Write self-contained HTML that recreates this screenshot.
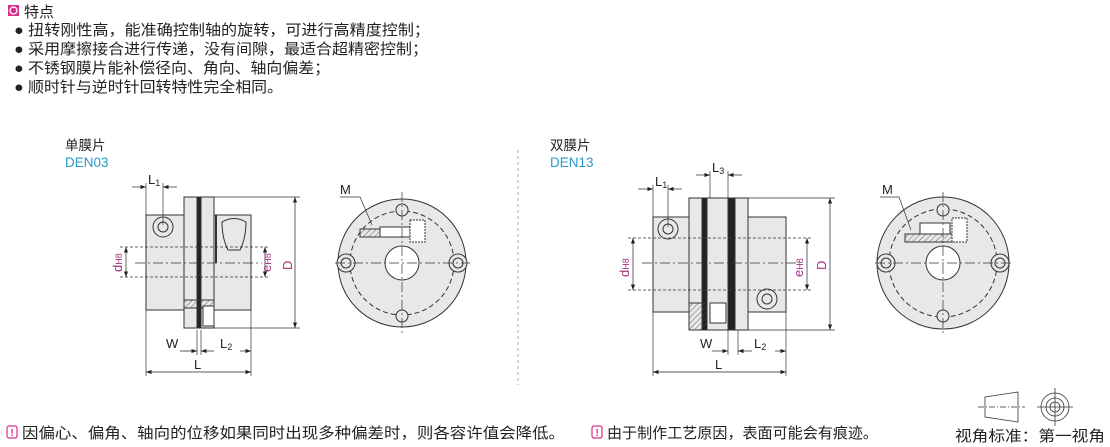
<!DOCTYPE html>
<html><head><meta charset="utf-8"><style>
body{margin:0;background:#fff;width:1110px;height:447px;overflow:hidden;font-family:"Liberation Sans","Noto Sans CJK SC",sans-serif;}
svg{position:absolute;left:0;top:0}
</style></head><body>
<svg width="1110" height="447" viewBox="0 0 1110 447" font-family="Liberation Sans, Noto Sans CJK SC, sans-serif">
<defs>
<pattern id="h" width="4" height="4" patternUnits="userSpaceOnUse" patternTransform="rotate(45)"><line x1="0" y1="0" x2="0" y2="4" stroke="#444" stroke-width="0.8"/></pattern>
<marker id="a" markerWidth="8" markerHeight="6" refX="8" refY="3" orient="auto-start-reverse"><path d="M0,0L8,3L0,6z" fill="#222"/></marker>
</defs>
<!-- header -->
<rect x="8" y="5" width="11" height="11" fill="#d8308a"/><circle cx="13.5" cy="10.5" r="3.5" fill="none" stroke="#fff" stroke-width="1.3"/>
<g font-size="15" fill="#222">
<text x="24" y="17">特点</text>
<text x="14" y="35" textLength="416" lengthAdjust="spacingAndGlyphs">● 扭转刚性高，能准确控制轴的旋转，可进行高精度控制；</text>
<text x="14" y="54" textLength="414" lengthAdjust="spacingAndGlyphs">● 采用摩擦接合进行传递，没有间隙，最适合超精密控制；</text>
<text x="14" y="73" textLength="316" lengthAdjust="spacingAndGlyphs">● 不锈钢膜片能补偿径向、角向、轴向偏差；</text>
<text x="14" y="92" textLength="269" lengthAdjust="spacingAndGlyphs">● 顺时针与逆时针回转特性完全相同。</text>
</g>
<g font-size="13.5" fill="#222">
<text x="65" y="150">单膜片</text><text x="65" y="167" fill="#2a9ac8">DEN03</text>
<text x="550" y="150">双膜片</text><text x="550" y="167" fill="#2a9ac8">DEN13</text>
</g>
<line x1="518" y1="150" x2="518" y2="385" stroke="#aaa" stroke-dasharray="3,3"/>

<g stroke="#333" stroke-width="1" fill="#e8e8e8">
<rect x="146" y="215" width="38" height="95"/>
<rect x="184" y="197" width="13" height="131"/>
<rect x="197" y="197" width="4" height="131" fill="#222"/>
<rect x="201" y="197" width="13" height="131"/>
<rect x="214" y="215" width="37" height="95"/>
<rect x="184" y="300" width="30" height="8" fill="url(#h)"/>
<rect x="203" y="306" width="11" height="20" fill="#fff"/>
<circle cx="163" cy="227" r="10"/><circle cx="163" cy="227" r="5"/>
<path d="M222,222 q12,-7 24,0 q0,16 -6,28 h-12 q-6,-12 -6,-28z"/>
<line x1="216" y1="215" x2="216" y2="263" stroke-width="2"/>
<circle cx="402" cy="263" r="64"/>
<circle cx="402" cy="263" r="52" fill="none" stroke-dasharray="5,3"/>
<circle cx="402" cy="263" r="17" fill="#fff"/>
<path d="M360,237 h56 v-8 h-56z" fill="url(#h)"/>
<rect x="380" y="227" width="30" height="10" fill="#fff"/>
<rect x="410" y="220" width="15" height="22" fill="#fff" stroke-dasharray="2,1"/>
<circle cx="402" cy="210" r="6"/><circle cx="402" cy="316" r="6"/>
<circle cx="346" cy="263" r="9"/><circle cx="346" cy="263" r="5"/>
<circle cx="458" cy="263" r="9"/><circle cx="458" cy="263" r="5"/>

<rect x="653" y="217" width="36" height="95"/>
<rect x="689" y="198" width="13" height="132"/>
<rect x="702" y="198" width="5" height="132" fill="#222"/>
<rect x="707" y="198" width="21" height="132"/>
<rect x="728" y="198" width="7" height="132" fill="#222"/>
<rect x="735" y="198" width="13" height="132"/>
<rect x="748" y="217" width="38" height="95"/>
<rect x="689" y="303" width="18" height="27" fill="url(#h)"/>
<rect x="710" y="303" width="16" height="20" fill="#fff"/>
<circle cx="668" cy="229" r="10"/><circle cx="668" cy="229" r="5"/>
<circle cx="767" cy="299" r="10"/><circle cx="767" cy="299" r="5"/>
<circle cx="943" cy="263" r="66"/>
<circle cx="943" cy="263" r="54" fill="none" stroke-dasharray="5,3"/>
<circle cx="943" cy="263" r="17" fill="#fff"/>
<path d="M905,242 h50 v-8 h-50z" fill="url(#h)"/>
<rect x="920" y="223" width="30" height="11" fill="#fff"/>
<rect x="952" y="218" width="15" height="24" fill="#fff" stroke-dasharray="2,1"/>
<circle cx="943" cy="210" r="6"/><circle cx="943" cy="316" r="6"/>
<circle cx="886" cy="263" r="9"/><circle cx="886" cy="263" r="5"/>
<circle cx="1000" cy="263" r="9"/><circle cx="1000" cy="263" r="5"/>
</g>

<g stroke="#333" stroke-width="0.7" fill="none">
<line x1="135" y1="263" x2="262" y2="263" stroke-dasharray="10,3,2,3"/>
<line x1="335" y1="263" x2="470" y2="263" stroke-dasharray="10,3,2,3"/>
<line x1="402" y1="192" x2="402" y2="334" stroke-dasharray="10,3,2,3"/>
<line x1="642" y1="263" x2="800" y2="263" stroke-dasharray="10,3,2,3"/>
<line x1="875" y1="263" x2="1012" y2="263" stroke-dasharray="10,3,2,3"/>
<line x1="943" y1="192" x2="943" y2="334" stroke-dasharray="10,3,2,3"/>
<line x1="120" y1="247" x2="270" y2="247" stroke-dasharray="3,2"/>
<line x1="120" y1="277" x2="270" y2="277" stroke-dasharray="3,2"/>
<line x1="628" y1="238" x2="812" y2="238" stroke-dasharray="3,2"/>
<line x1="628" y1="290" x2="812" y2="290" stroke-dasharray="3,2"/>
<line x1="146" y1="183" x2="146" y2="376"/><line x1="163" y1="183" x2="163" y2="225"/>
<line x1="251" y1="310" x2="251" y2="376"/><line x1="197" y1="330" x2="197" y2="355"/><line x1="201" y1="330" x2="201" y2="355"/>
<line x1="214" y1="197" x2="300" y2="197"/><line x1="214" y1="328" x2="300" y2="328"/>
<line x1="653" y1="185" x2="653" y2="376"/><line x1="668" y1="185" x2="668" y2="227"/>
<line x1="710" y1="171" x2="710" y2="198"/><line x1="728" y1="171" x2="728" y2="198"/>
<line x1="786" y1="312" x2="786" y2="376"/><line x1="728" y1="330" x2="728" y2="355"/><line x1="738" y1="330" x2="738" y2="355"/>
<line x1="748" y1="198" x2="835" y2="198"/><line x1="748" y1="330" x2="835" y2="330"/>
<g stroke="#222" marker-start="url(#a)" marker-end="url(#a)">
<line x1="126" y1="247" x2="126" y2="277"/><line x1="265" y1="247" x2="265" y2="277"/>
<line x1="295" y1="197" x2="295" y2="328"/>
<line x1="146" y1="372" x2="251" y2="372"/>
<line x1="633" y1="238" x2="633" y2="290"/><line x1="807" y1="238" x2="807" y2="290"/>
<line x1="830" y1="198" x2="830" y2="330"/>
<line x1="653" y1="372" x2="786" y2="372"/>
</g>
<g stroke="#222" marker-end="url(#a)">
<line x1="132" y1="187" x2="146" y2="187"/><line x1="177" y1="187" x2="163" y2="187"/>
<line x1="180" y1="351" x2="197" y2="351"/><line x1="214" y1="351" x2="201" y2="351"/><line x1="240" y1="351" x2="251" y2="351"/>
<line x1="638" y1="189" x2="653" y2="189"/><line x1="682" y1="189" x2="668" y2="189"/>
<line x1="696" y1="175" x2="710" y2="175"/><line x1="742" y1="175" x2="728" y2="175"/>
<line x1="712" y1="351" x2="728" y2="351"/><line x1="752" y1="351" x2="738" y2="351"/><line x1="775" y1="351" x2="786" y2="351"/>
</g>
<polyline points="340,197 360,197 372,225"/>
<polyline points="880,197 899,197 911,230"/>
</g>
<g font-size="13" fill="#222">
<text x="148" y="184">L<tspan font-size="9" dy="2">1</tspan></text>
<text x="655" y="186">L<tspan font-size="9" dy="2">1</tspan></text>
<text x="712" y="172">L<tspan font-size="9" dy="2">3</tspan></text>
<text x="166" y="348">W</text><text x="220" y="348">L<tspan font-size="9" dy="2">2</tspan></text>
<text x="700" y="348">W</text><text x="754" y="348">L<tspan font-size="9" dy="2">2</tspan></text>
<text x="194" y="369">L</text><text x="715" y="369">L</text>
<text x="340" y="194">M</text><text x="882" y="194">M</text>
<text transform="translate(122,272) rotate(-90)" fill="#a03080">d<tspan font-size="9">H8</tspan></text>
<text transform="translate(271,272) rotate(-90)" fill="#a03080">e<tspan font-size="9">H8</tspan></text>
<text transform="translate(292,270) rotate(-90)" fill="#a03080">D</text>
<text transform="translate(629,277) rotate(-90)" fill="#a03080">d<tspan font-size="9">H8</tspan></text>
<text transform="translate(803,277) rotate(-90)" fill="#a03080">e<tspan font-size="9">H8</tspan></text>
<text transform="translate(826,270) rotate(-90)" fill="#a03080">D</text>
</g>
<g fill="none" stroke="#d8308a" stroke-width="1.2"><rect x="7" y="426" width="10" height="12" rx="2"/><rect x="592" y="426" width="10" height="12" rx="2"/></g>
<g fill="#d8308a" font-size="10" font-weight="bold"><text x="10.5" y="436">!</text><text x="595.5" y="436">!</text></g>
<g font-size="15" fill="#222">
<text x="22" y="438" textLength="543" lengthAdjust="spacingAndGlyphs">因偏心、偏角、轴向的位移如果同时出现多种偏差时，则各容许值会降低。</text>
<text x="607" y="438" textLength="271" lengthAdjust="spacingAndGlyphs">由于制作工艺原因，表面可能会有痕迹。</text>
<text x="955" y="441" textLength="150" lengthAdjust="spacingAndGlyphs">视角标准：第一视角</text>
</g>
<g stroke="#333" stroke-width="0.8" fill="none">
<path d="M985,397 L1018,392 L1018,422 L985,417z"/>
<line x1="978" y1="407" x2="1025" y2="407" stroke-dasharray="6,2,1,2"/>
<circle cx="1055" cy="407" r="14"/><circle cx="1055" cy="407" r="9"/><circle cx="1055" cy="407" r="5"/>
<line x1="1037" y1="407" x2="1073" y2="407"/><line x1="1055" y1="388" x2="1055" y2="426"/>
</g>
</svg>
</body></html>
